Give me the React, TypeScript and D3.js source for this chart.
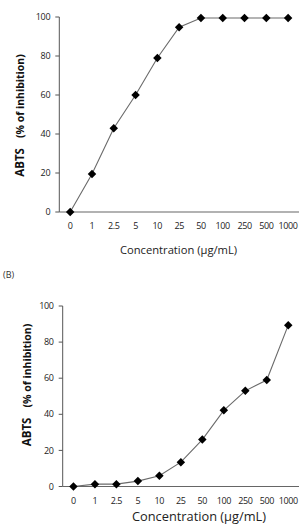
import * as d3 from 'd3';

const categories = ['0', '1', '2.5', '5', '10', '25', '50', '100', '250', '500', '1000'];
const seriesA = [0, 19.5, 43, 60, 79, 94.8, 99.5, 99.5, 99.5, 99.5, 99.5];
const seriesB = [0, 1.3, 1.3, 3, 6, 13.5, 26, 42.2, 53, 59, 89.4];
const yTicks = [0, 20, 40, 60, 80, 100];
const xTitle = 'Concentration (µg/mL)';
const yTitleBold = 'ABTS';
const yTitleRest = '(% of inhibition)';
const panelLabel = '(B)';

const FONT = "'Open Sans', 'Liberation Sans', sans-serif";

type PanelProps = {
  values: number[];
  x0: number;
  x1: number;
  yTop: number;
  yBottom: number;
  yTitleX: number;
  yTitleY: number;
  xTitleX: number;
  xTitleY: number;
  xTitleSize: number;
};

function Panel({ values, x0, x1, yTop, yBottom, yTitleX, yTitleY, xTitleX, xTitleY, xTitleSize }: PanelProps) {
  const x = d3.scaleBand<string>().domain(categories).range([x0, x1]).padding(0);
  const y = d3.scaleLinear().domain([0, 100]).range([yBottom, yTop]);
  const cx = (c: string) => (x(c) ?? 0) + x.bandwidth() / 2;

  const line = d3
    .line<number>()
    .x((_, i) => cx(categories[i]))
    .y((d) => y(d));

  const marker = d3.symbol().type(d3.symbolDiamond2).size(46)() ?? '';

  return (
    <g>
      {/* y axis */}
      <line x1={x0} x2={x0} y1={y(100)} y2={y(0)} stroke="#555" strokeWidth={1} />
      {yTicks.map((t) => (
        <g key={t}>
          <line x1={x0 - 4} x2={x0} y1={y(t)} y2={y(t)} stroke="#555" strokeWidth={1} />
          <text
            x={x0 - 9}
            y={y(t)}
            dy="0.35em"
            textAnchor="end"
            fontSize={9}
            fill="#222"
            fontFamily={FONT}
            letterSpacing={-0.3}
          >
            {t}
          </text>
        </g>
      ))}
      {/* x axis */}
      <line x1={x0} x2={x1} y1={y(0)} y2={y(0)} stroke="#666" strokeWidth={1.2} />
      {categories.map((c) => (
        <text
          key={c}
          x={cx(c)}
          y={y(0) + 14}
          dy="0.35em"
          textAnchor="middle"
          fontSize={9}
          fill="#222"
          fontFamily={FONT}
          letterSpacing={-0.4}
        >
          {c}
        </text>
      ))}
      <path d={line(values) ?? ''} fill="none" stroke="#6a6a6a" strokeWidth={1.1} />
      {values.map((v, i) => (
        <path key={i} d={marker} transform={`translate(${cx(categories[i])},${y(v)})`} fill="#000" />
      ))}
      <text
        transform={`translate(${yTitleX},${yTitleY}) rotate(-90)`}
        textAnchor="middle"
        fontFamily={FONT}
        fill="#111"
        fontWeight={700}
      >
        <tspan fontSize={11.5}>{yTitleBold}</tspan>
        <tspan fontSize={10.5} dx={10}>
          {yTitleRest}
        </tspan>
      </text>
      <text
        x={xTitleX}
        y={xTitleY}
        textAnchor="middle"
        fontFamily={FONT}
        fontSize={xTitleSize}
        fill="#222"
      >
        {xTitle}
      </text>
    </g>
  );
}

export default function App() {
  return (
    <div style={{ position: 'absolute', left: 0, top: 0, width: 301, height: 524, background: '#fff' }}>
      <svg width={301} height={524} style={{ display: 'block' }}>
        <Panel
          values={seriesA}
          x0={59.3}
          x1={299}
          yTop={17}
          yBottom={212}
          yTitleX={24}
          yTitleY={115.5}
          xTitleX={178.5}
          xTitleY={254}
          xTitleSize={11.2}
        />
        <text x={3} y={278} fontSize={9} fill="#333" fontFamily={FONT}>
          {panelLabel}
        </text>
        <Panel
          values={seriesB}
          x0={62.7}
          x1={299}
          yTop={306}
          yBottom={486.5}
          yTitleX={31}
          yTitleY={385}
          xTitleX={199}
          xTitleY={521}
          xTitleSize={12.8}
        />
      </svg>
    </div>
  );
}
